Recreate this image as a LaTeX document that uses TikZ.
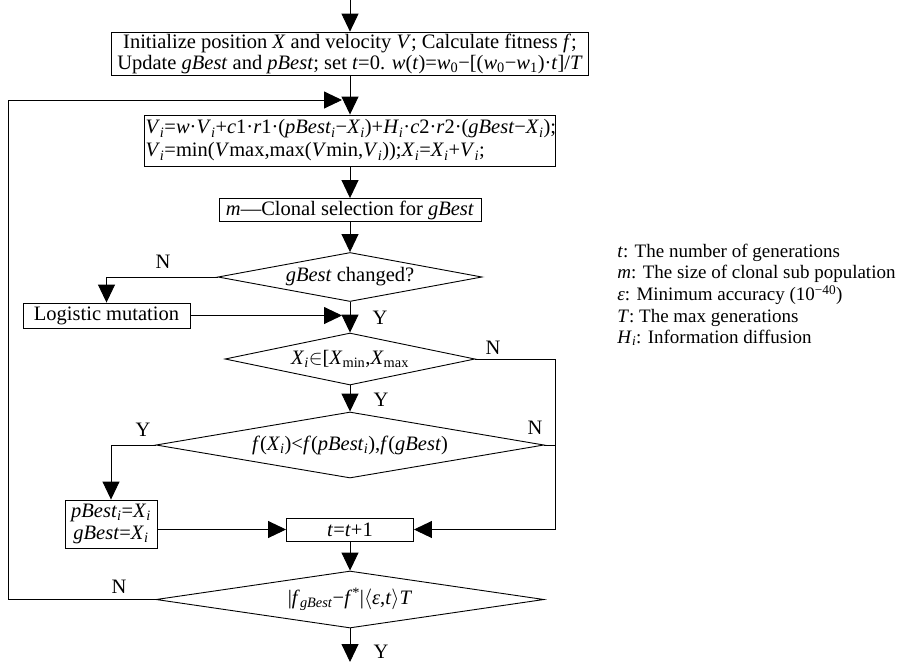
\documentclass[tikz,border=0pt]{standalone}
\usepackage{fontspec}
\setmainfont{Liberation Serif}
\usetikzlibrary{arrows.meta,shapes.geometric}
\newcommand{\lo}[1]{\textsubscript{#1}}
\newcommand{\subi}{\textsubscript{\textit{i}}}
\tikzset{
    flow/.style={-{Triangle[length=18pt,width=17pt]}},
    box/.style={draw,rectangle,inner sep=2pt},
    test/.style={draw,diamond,inner sep=0pt,aspect=5},
    note/.style={anchor=base west,inner sep=0pt,font=\fontsize{19}{20}\selectfont},
}
\begin{document}
\begin{tikzpicture}[x=1pt,y=-1pt,line width=0.9pt,font=\fontsize{20.5}{21}\selectfont]
        \useasboundingbox (0,0) rectangle (924,665);
        \coordinate (start) at (350,0);
        \node[box,minimum width=477pt,minimum height=42pt,align=center] (init) at (350,54)
            {Initialize position \textit{X} and velocity \textit{V}; Calculate fitness \textit{f};\\
            Update \textit{gBest} and \textit{pBest}; set \textit{t}=0. \textit{w}(\textit{t})=\textit{w}\lo{0}−[(\textit{w}\lo{0}−\textit{w}\lo{1})·\textit{t}]/\textit{T}};
        \node[box,minimum height=51pt,text width=409pt,align=left,inner xsep=1pt] (speed) at (350,140.5)
            {\textit{V}\subi=\textit{w}·\textit{V}\subi+\textit{c}1·\textit{r}1·(\textit{pBest}\subi−\textit{X}\subi)+\textit{H}\subi·\textit{c}2·\textit{r}2·(\textit{gBest}−\textit{X}\subi);\\[2pt]
            \textit{V}\subi=min(\textit{V}max,max(\textit{V}min,\textit{V}\subi));\textit{X}\subi=\textit{X}\subi+\textit{V}\subi;};
        \node[box,minimum width=262pt,minimum height=23pt] (clone) at (350,210)
            {\textit{m}—Clonal selection for \textit{gBest}};
        \node[test,minimum width=264pt,minimum height=49pt] (changed) at (350,277)
            {\textit{gBest} changed?};
        \node[box,minimum width=167pt,minimum height=25pt] (mutate) at (106.5,315.5)
            {Logistic mutation};
        \node[test,minimum width=250pt,minimum height=52pt] (range) at (350,359)
            {\textit{X}\subi$\in$[\textit{X}\lo{min},\textit{X}\lo{max}};
        \node[test,minimum width=388pt,minimum height=66pt] (better) at (350,445)
            {\textit{f}(\textit{X}\subi)<\textit{f}(\textit{pBest}\subi),\textit{f}(\textit{gBest})};
        \node[box,minimum width=92pt,minimum height=48pt,align=center,inner sep=1pt] (update) at (111,524)
            {\textit{pBest}\subi=\textit{X}\subi\\[1pt] \textit{gBest}=\textit{X}\subi};
        \node[box,minimum width=127pt,minimum height=23pt] (next) at (350,529.5)
            {\textit{t}=\textit{t}+1};
        \node[test,minimum width=388pt,minimum height=57pt] (stop) at (350,599.5)
            {|\textit{f}\lo{\textit{gBest}}−\textit{f}\textsuperscript{*}|$\langle$\textit{ε},\textit{t}$\rangle$\textit{T}};
        \coordinate (end) at (350,662);
        \coordinate (loop) at (342,100);
        \coordinate (lside) at (8,100);
        \coordinate (join) at (342,315.5);
        \coordinate (rside) at (555,359);

        % main column
        \draw[flow] (start) -- (init);
        \draw[flow] (init) -- (speed);
        \draw[flow] (speed) -- (clone);
        \draw[flow] (clone) -- (changed);
        \draw[flow] (changed) -- (range);
        \draw[flow] (range) -- (better);
        \draw[flow] (next) -- (stop);
        \draw[flow] (stop) -- (end);
        % branches
        \draw[flow] (changed.west) -| (mutate);
        \draw[flow] (mutate) -- (join);
        \draw[flow] (range.east) -- (rside) |- (next);
        \draw (better.east) -- (better.east -| rside);
        \draw[flow] (better.west) -| (update);
        \draw[flow] (update.east |- next) -- (next);
        \draw[flow] (stop.west) -- (stop.west -| lside) -- (lside) -- (loop);

        \node (n1) at (163,262) {N};
        \node (y1) at (380,318) {Y};
        \node (n2) at (493,348) {N};
        \node (y2) at (381,400) {Y};
        \node (y3) at (143,430) {Y};
        \node (n3) at (535,428) {N};
        \node (n4) at (119,587) {N};
        \node (y4) at (381,652) {Y};

        % legend
        \node[note] (leg1) at (617,257) {\textit{t}: The number of generations};
        \node[note] (leg2) at (617,278.5) {\textit{m}: The size of clonal sub population};
        \node[note] (leg3) at (617,300.5) {\textit{ε}: Minimum accuracy (10\textsuperscript{−40})};
        \node[note] (leg4) at (617,322) {\textit{T}: The max generations};
        \node[note] (leg5) at (617,343) {\textit{H}\subi: Information diffusion};
    \end{tikzpicture}
\end{document}
